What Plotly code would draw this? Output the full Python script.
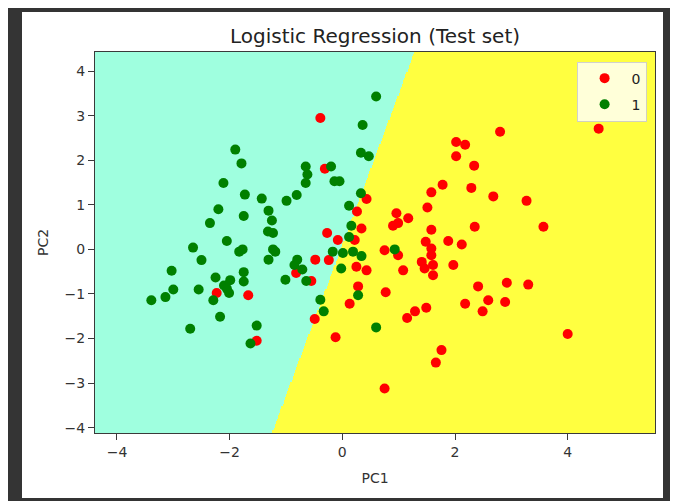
import numpy as np
import plotly.graph_objects as go

# ---------------- data ----------------
class0_pc1 = [-0.39, -0.31, 0.43, 0.26, 0.34, -0.27, -0.08, 0.22, -0.48, -0.24, 0.25, 0.43,
              0.28, 0.13, -0.49, -0.12, -2.23, -1.67, -1.52, -0.82, -0.55,
              0.75, 0.99, 0.77, 0.96, 1.17, 0.90, 0.99,
              1.58, 1.78, 2.29, 1.51, 1.58, 2.35, 1.48, 1.58, 1.41, 1.58, 1.61, 1.46, 1.61,
              1.88, 2.12, 1.97, 1.08,
              1.15, 1.29, 1.49, 2.41, 2.92, 3.30, 2.18, 2.49, 2.59, 2.89, 4.00, 1.76, 1.66, 0.75,
              2.80, 2.02, 2.18, 2.02, 2.34, 4.55, 2.68, 3.27, 3.57]
class0_pc2 = [2.95, 1.81, 1.13, 0.85, 0.47, 0.37, 0.21, 0.21, -0.23, -0.24, -0.39, -0.47,
              -0.83, -1.22, -1.56, -1.97, -0.98, -1.03, -2.05, -0.53, -0.71,
              -0.02, -0.13, -0.96, 0.81, 0.70, 0.53, 0.59,
              1.28, 1.45, 1.38, 0.94, 0.44, 0.51, 0.17, 0.02, -0.28, -0.13, -0.35, -0.43, -0.58,
              0.19, 0.11, -0.35, -0.47,
              -1.54, -1.39, -1.31, -0.83, -0.75, -0.79, -1.22, -1.39, -1.14, -1.18, -1.90, -2.26, -2.54, -3.12,
              2.64, 2.41, 2.35, 2.09, 1.88, 2.71, 1.19, 1.09, 0.51]

class1_pc1 = [0.60, 0.36, 0.33, 0.47, -1.90, -1.79, -0.20, -0.65, -0.62, -0.65, -0.14, -0.05,
              -2.11, -1.73, -1.43, -0.81, -0.99, 0.33, 0.12, -2.20, -1.31, -1.75, -1.25, -2.35,
              -1.32, -1.23, 0.16, 0.12, -2.05, -2.65, -1.83, -1.77, -1.23, -1.19, -1.31, -2.50,
              -0.80, -0.85, -0.71, -0.64, -1.01, -3.03, -2.25, -1.75, -1.75, -1.99, -2.05, -2.01,
              -2.10, -2.55, -3.00, -3.14, -3.39, -2.29, -2.17, -2.70, -1.52, -1.63,
              -0.17, 0.01, 0.19, 0.34, -0.02, 0.93, 0.28, -0.39, -0.33, 0.60]
class1_pc2 = [3.43, 2.79, 2.17, 2.09, 2.24, 1.93, 1.86, 1.86, 1.68, 1.49, 1.53, 1.53,
              1.49, 1.23, 1.14, 1.22, 1.09, 1.26, 0.98, 0.90, 0.87, 0.75, 0.65, 0.59,
              0.40, 0.37, 0.53, 0.28, 0.19, 0.04, -0.05, 0.00, 0.00, -0.05, -0.23, -0.24,
              -0.23, -0.35, -0.45, -0.71, -0.68, -0.48, -0.63, -0.51, -0.72, -0.69, -0.88, -0.98,
              -0.81, -0.90, -0.90, -1.07, -1.14, -1.14, -1.51, -1.78, -1.71, -2.11,
              -0.05, -0.08, -0.05, -0.15, -0.43, 0.00, -1.03, -1.13, -1.39, -1.75]

# logistic regression decision function (class 1 if > 0)
coef = [-2.10, 0.62]
intercept = -0.058

x_ticks = [-4, -2, 0, 2, 4]
y_ticks = [-4, -3, -2, -1, 0, 1, 2, 3, 4]
class_labels = ["0", "1"]

# ---------------- grid (like meshgrid + predict) ----------------
all_x = class0_pc1 + class1_pc1
all_y = class0_pc2 + class1_pc2
x_min, x_max = min(all_x) - 1, max(all_x) + 1
y_min, y_max = min(all_y) - 1, max(all_y) + 1
gx = np.arange(x_min, x_max, 0.02)
gy = np.arange(y_min, y_max, 0.02)
X1, X2 = np.meshgrid(gx, gy)
Z = ((coef[0] * X1 + coef[1] * X2 + intercept) > 0).astype(np.int8)

YELLOW = "rgb(255,255,64)"
AQUA = "rgb(159,255,223)"

fig = go.Figure()
fig.add_trace(go.Heatmap(
    x=gx, y=gy, z=Z, zmin=0, zmax=1, zsmooth=False,
    colorscale=[[0, YELLOW], [0.5, YELLOW], [0.5, AQUA], [1, AQUA]],
    showscale=False, hoverinfo="skip",
))
fig.add_trace(go.Scatter(
    x=class0_pc1, y=class0_pc2, mode="markers", name=class_labels[0],
    legendgroup="g0",
    marker=dict(color="#ff0000", size=10, line=dict(width=0)),
))
fig.add_trace(go.Scatter(
    x=class1_pc1, y=class1_pc2, mode="markers", name=class_labels[1],
    legendgroup="g1",
    marker=dict(color="#008000", size=10, line=dict(width=0)),
))

# the page body adds an 8px offset, so the figure is 8px smaller
OFF = 8
W, H = 678 - OFF, 501 - OFF
ml, mr, mt, mb = 95 - OFF, 23, 52 - OFF, 68
pw, ph = W - ml - mr, H - mt - mb


def px2paper_x(px):
    return (px - OFF - ml) / pw


def px2paper_y(py):
    return (H - mb - (py - OFF)) / ph


shapes = [
    dict(type="rect", xref="paper", yref="paper", layer="below",
         x0=px2paper_x(0), x1=px2paper_x(700), y0=px2paper_y(520), y1=px2paper_y(0),
         fillcolor="#343434", line=dict(width=0)),
    dict(type="rect", xref="paper", yref="paper", layer="below",
         x0=px2paper_x(22), x1=px2paper_x(663), y0=px2paper_y(498), y1=px2paper_y(12),
         fillcolor="#ffffff", line=dict(width=0)),
]

font = "DejaVu Sans, Verdana, sans-serif"
axis_common = dict(
    showgrid=False, zeroline=False, showline=True, mirror=True,
    linecolor="#3a3a3a", linewidth=1,
    ticks="outside", ticklen=6, tickwidth=1, tickcolor="#3a3a3a",
    tickfont=dict(family=font, size=14, color="#333333"),
)

fig.update_layout(
    width=W, height=H,
    margin=dict(l=ml, r=mr, t=mt, b=mb, autoexpand=False),
    paper_bgcolor="#ffffff", plot_bgcolor="#ffffff",
    shapes=shapes,
    title=dict(text="Logistic Regression (Test set)", x=0.5, xref="paper",
               y=1 - (36 - OFF) / H, yref="container", yanchor="middle", xanchor="center",
               font=dict(family=font, size=20, color="#222222")),
    xaxis=dict(range=[x_min, x_max], tickvals=x_ticks,
               title=dict(text="PC1", font=dict(family=font, size=14, color="#333333"), standoff=14),
               **axis_common),
    yaxis=dict(range=[y_min, y_max], tickvals=y_ticks,
               title=dict(text="PC2", font=dict(family=font, size=14, color="#333333"), standoff=12),
               **axis_common),
    legend=dict(x=0.985, y=0.975, xanchor="right", yanchor="top",
                bgcolor="rgba(255,255,255,0.8)", bordercolor="rgba(204,204,204,0.9)",
                borderwidth=1, font=dict(family=font, size=14, color="#222222"),
                itemwidth=44, tracegroupgap=5, traceorder="grouped"),
    showlegend=True,
)

fig.write_html("out.html")
